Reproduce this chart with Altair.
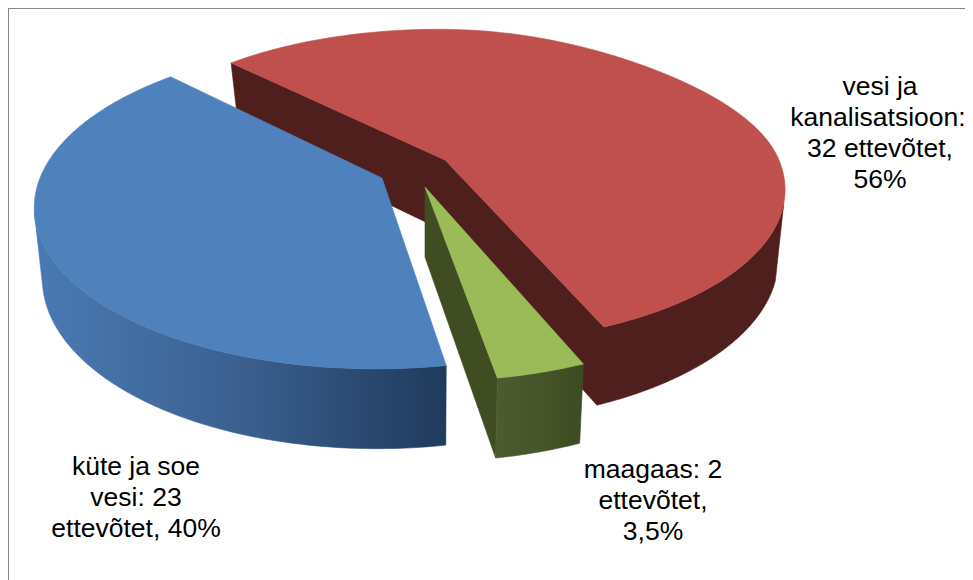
import math
import altair as alt
import pandas as pd

# ---- chart values ----
segments = ["vesi ja kanalisatsioon", "küte ja soe vesi", "maagaas"]
companies = [32, 23, 2]
label_lines = [
    ["vesi ja", "kanalisatsioon:", "32 ettevõtet,", "56%"],
    ["küte ja soe", "vesi: 23", "ettevõtet, 40%"],
    ["maagaas: 2", "ettevõtet,", "3,5%"],
]

# ---- drawing set-up (3-D perspective pie) ----
W, H = 957, 572
X0, Y0 = 8, 8
FONT = "Liberation Sans"
FONT_SIZE = 26.5
LINE_GAP = 31
LABEL_ANCHOR = [(880, 95), (136, 475), (653, 478)]
LINE_NUDGE = {"kanalisatsioon:": -2}  # keeps the long line inside the page

TOP_RED, DARK_RED = "#C0504D", "#4E1F1D"
TOP_BLUE = "#4F81BD"
TOP_GREEN, DARK_GREEN = "#9BBB59", "#404D23"
FRAME = "#868686"

# tip x, tip y, Rx, Ry, perspective, shear, far-right squeeze
DISK = {
    "red_top": (445, 160, 334, 152.7, 0.168, -7, 0.033),
    "red_bot": (438, 228, 334, 162, 0.168, -7, 0),
    "blue_top": (382, 178, 342, 159, 0.167, 5, 0),
    "blue_bot": (383, 247, 335, 168, 0.167, 5, 0),
    "green_top": (425, 187, 348, 162, 0.167, -0.9, 0),
    "green_bot": (425, 257, 340, 170.5, 0.167, -0.8, 0),
}
START = 134.6  # angle of the red/blue boundary


def rim(disk, a):
    tx, ty, rx, ry, p, s, q = DISK[disk]
    rad = math.radians(a)
    k = 1 - q * math.sin(2 * rad) ** 2 if 0 < a < 90 else 1
    u, v = k * math.cos(rad), k * math.sin(rad)
    w = 1 + p * v
    return (tx + (rx * u + s * v) / w, ty - ry * v / w)


def arc(disk, a0, a1, n=120):
    return [rim(disk, a0 + (a1 - a0) * i / n) for i in range(n + 1)]


x_scale = alt.Scale(domain=[X0, X0 + W], nice=False, zero=False)
y_scale = alt.Scale(domain=[Y0 + H, Y0], nice=False, zero=False)


def poly(points, fill):
    pts = list(points) + [points[0]]
    df = pd.DataFrame({"px": [p[0] for p in pts], "py": [p[1] for p in pts], "i": range(len(pts))})
    return alt.Chart(df).mark_line(fill=fill, stroke=fill, strokeWidth=0.6, interpolate="linear").encode(
        x=alt.X("px:Q", scale=x_scale, axis=None),
        y=alt.Y("py:Q", scale=y_scale, axis=None),
        order=alt.Order("i:Q"),
    )


def hgrad(stops):
    return alt.Gradient(
        gradient="linear", x1=0, x2=1, y1=0, y2=0,
        stops=[alt.GradientStop(offset=o, color=c) for o, c in stops],
    )


total = sum(companies)
sweep = [c / total * 360 for c in companies]
red_a0, red_a1 = START - sweep[0], START
blue_a0, blue_a1 = START, START + sweep[1]
green_a0, green_a1 = blue_a1, blue_a1 + sweep[2]

layers = []

# red slice
rt, rb = "red_top", "red_bot"
rt_tip, rb_tip = DISK[rt][:2], DISK[rb][:2]
far_b = rim(rb, red_a1)
far_b = (rb_tip[0] + 0.93 * (far_b[0] - rb_tip[0]), rb_tip[1] + 0.93 * (far_b[1] - rb_tip[1]))
layers.append(poly([rim(rt, red_a1), far_b, rb_tip] + arc(rb, red_a0, -18) + arc(rt, -16, red_a0) + [rt_tip], DARK_RED))
layers.append(poly([rt_tip] + arc(rt, red_a0, red_a1), TOP_RED))

# green slice
gt, gb = "green_top", "green_bot"
gt_tip, gb_tip = DISK[gt][:2], DISK[gb][:2]
layers.append(poly([gt_tip, rim(gt, green_a0), rim(gb, green_a0), gb_tip], DARK_GREEN))
layers.append(poly(arc(gt, green_a0, green_a1, 20) + arc(gb, green_a1, green_a0, 20),
                   hgrad([(0, "#4D5C2D"), (0.5, "#465428"), (1, "#3E4B22")])))
layers.append(poly([gt_tip] + arc(gt, green_a0, green_a1, 20), TOP_GREEN))

# blue slice
bt, bb = "blue_top", "blue_bot"
bt_tip = DISK[bt][:2]
layers.append(poly(arc(bt, 192, blue_a1) + arc(bb, blue_a1, 194),
                   hgrad([(0, "#4A7AB3"), (0.5, "#3B6090"), (1, "#1F3A5C")])))
layers.append(poly([bt_tip] + arc(bt, blue_a0, blue_a1), TOP_BLUE))

# frame
layers.append(alt.Chart(pd.DataFrame({"a": [0]})).mark_rule(color=FRAME, strokeWidth=1).encode(
    x=alt.value(0.5), x2=alt.value(W), y=alt.value(0.5)))
layers.append(alt.Chart(pd.DataFrame({"a": [0]})).mark_rule(color=FRAME, strokeWidth=1).encode(
    x=alt.value(0.5), y=alt.value(0), y2=alt.value(H)))

# labels
rows = []
for lines, (lx, ly) in zip(label_lines, LABEL_ANCHOR):
    for i, t in enumerate(lines):
        rows.append({"lx": lx + LINE_NUDGE.get(t, 0), "ly": ly + i * LINE_GAP, "t": t})
layers.append(
    alt.Chart(pd.DataFrame(rows)).mark_text(
        font=FONT, fontSize=FONT_SIZE, color="#000000", align="center", baseline="alphabetic"
    ).encode(
        x=alt.X("lx:Q", scale=x_scale, axis=None),
        y=alt.Y("ly:Q", scale=y_scale, axis=None),
        text="t:N",
    )
)

chart = (
    alt.layer(*layers)
    .properties(width=W, height=H, padding=0, autosize=alt.AutoSizeParams(type="none"), background="#FFFFFF")
    .configure_view(stroke=None)
)
chart.save("out.html", embed_options={"renderer": "svg", "actions": False})
